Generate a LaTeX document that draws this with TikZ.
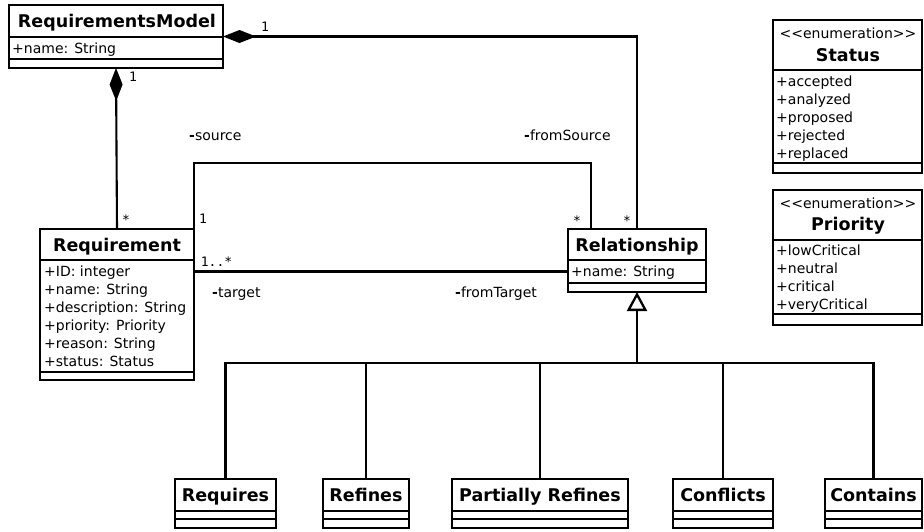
\documentclass[tikz,border=0pt]{standalone}
\usepackage{fontspec}
\setmainfont{DejaVu Sans}
\newfontfamily\multfont{DejaVu Sans Mono}
\usetikzlibrary{arrows.meta}
% stereotype text: kerns keep the angle brackets from merging into guillemets
\newcommand{\stereotype}[1]{<\kern0pt<#1>\kern0pt>}

\begin{document}
\begin{tikzpicture}[x=1pt,y=-1pt,
  classbox/.style={draw, line width=2.1pt, inner sep=0pt, outer sep=0pt, anchor=north west},
  ctitle/.style={font=\fontsize{17.5}{19}\selectfont\bfseries, inner sep=0pt, text height=12.7pt, text depth=0pt},
  cattr/.style={font=\fontsize{14}{16}\selectfont, inner sep=0pt, anchor=west, text height=10.2pt, text depth=0pt},
  stereo/.style={font=\fontsize{14}{16}\selectfont, inner sep=0pt, text height=10.2pt, text depth=0pt},
  role/.style={font=\fontsize{14}{16}\selectfont, inner sep=0pt, anchor=west, text height=10.2pt, text depth=0pt},
  mult/.style={font=\multfont\fontsize{13}{15}\selectfont, inner sep=0pt, text height=9.5pt, text depth=0pt},
  sepline/.style={line width=2.1pt},
  assoc/.style={line width=2.1pt},
  comp/.style={line width=2.1pt, {Diamond[length=33pt,width=13pt]}-},
  gen/.style={line width=2.3pt, -{Triangle[open,length=19pt,width=20pt]}},
]
\useasboundingbox (0,0) rectangle (924,531);

% ---------- RequirementsModel ----------
\node[classbox, minimum width=214pt, minimum height=63pt] (rm) at (9,5) {};
\draw[sepline] (9,37) -- (223,37);
\draw[sepline] (9,59) -- (223,59);
\node[ctitle] (rmT) at (117,21.5) {RequirementsModel};
\node[cattr] (rmA1) at (12,48) {+name: String};

% ---------- Requirement ----------
\node[classbox, minimum width=154pt, minimum height=151pt] (req) at (40,229) {};
\draw[sepline] (40,260) -- (194,260);
\draw[sepline] (40,372) -- (194,372);
\node[ctitle] (reqT) at (117,245) {Requirement};
\node[cattr] (reqA1) at (44,271) {+ID: integer};
\node[cattr] (reqA2) at (44,289) {+name: String};
\node[cattr] (reqA3) at (44,307) {+description: String};
\node[cattr] (reqA4) at (44,325) {+priority: Priority};
\node[cattr] (reqA5) at (44,343) {+reason: String};
\node[cattr] (reqA6) at (44,361) {+status: Status};

% ---------- Relationship ----------
\node[classbox, minimum width=138pt, minimum height=63pt] (rel) at (568,229) {};
\draw[sepline] (568,260) -- (706,260);
\draw[sepline] (568,283) -- (706,283);
\node[ctitle] (relT) at (637,245) {Relationship};
\node[cattr] (relA1) at (571,271) {+name: String};

% ---------- Status enumeration ----------
\node[classbox, minimum width=149pt, minimum height=153pt] (st) at (773,20) {};
\draw[sepline] (773,70) -- (922,70);
\draw[sepline] (773,163) -- (922,163);
\node[stereo] (stS) at (848,33) {\stereotype{enumeration}};
\node[ctitle] (stT) at (848,55) {Status};
\node[cattr] (stA1) at (776,81) {+accepted};
\node[cattr] (stA2) at (776,99) {+analyzed};
\node[cattr] (stA3) at (776,117) {+proposed};
\node[cattr] (stA4) at (776,135) {+rejected};
\node[cattr] (stA5) at (776,153) {+replaced};

% ---------- Priority enumeration ----------
\node[classbox, minimum width=149pt, minimum height=135pt] (pr) at (773,190) {};
\draw[sepline] (773,240) -- (922,240);
\draw[sepline] (773,314) -- (922,314);
\node[stereo] (prS) at (848,203) {\stereotype{enumeration}};
\node[ctitle] (prT) at (848,224) {Priority};
\node[cattr] (prA1) at (776,250) {+lowCritical};
\node[cattr] (prA2) at (776,268) {+neutral};
\node[cattr] (prA3) at (776,286) {+critical};
\node[cattr] (prA4) at (776,304) {+veryCritical};

% ---------- Relationship subclasses ----------
\node[classbox, minimum width=101pt, minimum height=49pt] (rq) at (175,479) {};
\draw[sepline] (175,511) -- (276,511);
\draw[sepline] (175,519) -- (276,519);
\node[ctitle] (rqT) at (225.5,495) {Requires};

\node[classbox, minimum width=86pt, minimum height=49pt] (rf) at (323,479) {};
\draw[sepline] (323,511) -- (409,511);
\draw[sepline] (323,519) -- (409,519);
\node[ctitle] (rfT) at (366,495) {Refines};

\node[classbox, minimum width=176pt, minimum height=49pt] (pf) at (452,479) {};
\draw[sepline] (452,511) -- (628,511);
\draw[sepline] (452,519) -- (628,519);
\node[ctitle] (pfT) at (540,495) {Partially Refines};

\node[classbox, minimum width=100pt, minimum height=49pt] (cf) at (673,479) {};
\draw[sepline] (673,511) -- (773,511);
\draw[sepline] (673,519) -- (773,519);
\node[ctitle] (cfT) at (723,495) {Conflicts};

\node[classbox, minimum width=97pt, minimum height=49pt] (ct) at (825,479) {};
\draw[sepline] (825,511) -- (922,511);
\draw[sepline] (825,519) -- (922,519);
\node[ctitle] (ctT) at (873.5,495) {Contains};

% ---------- compositions ----------
\draw[comp] (rm.east) -| (rel.north);
\draw[comp] (rm.south) -- (req.north);
\node[mult] (m1) at (265,27) {1};
\node[mult] (m2) at (627,220.7) {*};
\node[mult] (m3) at (133,77) {1};
\node[mult] (m4) at (126,219.7) {*};

% ---------- source association ----------
\draw[assoc] (req.north east) -- ++(0,-66) -| ([xshift=-46pt]rel.north);
\node[mult] (m5) at (203,219) {1};
\node[mult] (m6) at (577,220.7) {*};
\node[role] (r1) at (189,135) {{\bfseries -}source};
\node[role] (r2) at (524,135) {{\bfseries -}fromSource};

% ---------- target association ----------
\draw[assoc] (rel.west) ++(0,11) coordinate (tg) -- (req.east |- tg);
\node[mult] (m7) at (216.5,262) {1..*};
\node[role] (r3) at (212,292) {{\bfseries -}target};
\node[role] (r4) at (455,292) {{\bfseries -}fromTarget};

% ---------- generalization ----------
\coordinate (bus) at (637,363);
\draw[assoc] (rq.north) |- (ct.north |- bus) -- (ct.north);
\draw[assoc] (rf.north) -- (rf.north |- bus);
\draw[assoc] (pf.north) -- (pf.north |- bus);
\draw[assoc] (cf.north) -- (cf.north |- bus);
\draw[gen] (bus) -- (rel.south);
\end{tikzpicture}
\end{document}
